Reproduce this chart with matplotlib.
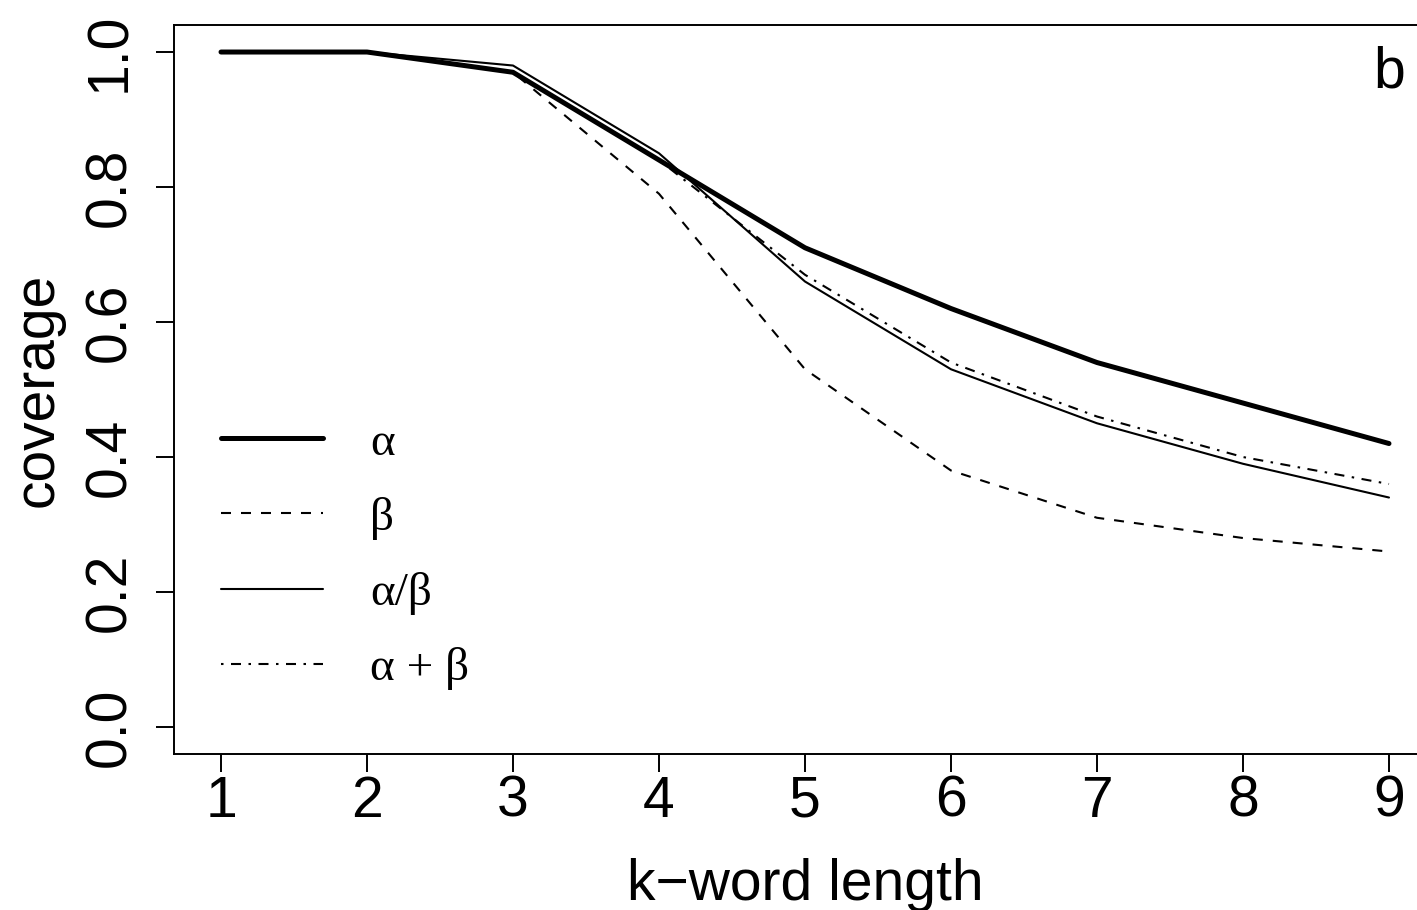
import matplotlib
matplotlib.use("Agg")
import matplotlib.pyplot as plt

k = [1, 2, 3, 4, 5, 6, 7, 8, 9]
alpha = [1.0, 1.0, 0.97, 0.84, 0.71, 0.62, 0.54, 0.48, 0.42]
beta = [1.0, 1.0, 0.97, 0.79, 0.53, 0.38, 0.31, 0.28, 0.26]
alpha_over_beta = [1.0, 1.0, 0.98, 0.85, 0.66, 0.53, 0.45, 0.39, 0.34]
alpha_plus_beta = [1.0, 1.0, 0.97, 0.84, 0.67, 0.54, 0.46, 0.40, 0.36]
labels = ["α", "β", "α/β", "α + β"]
yticks = [0.0, 0.2, 0.4, 0.6, 0.8, 1.0]

plt.rcParams["font.family"] = ["Liberation Sans", "DejaVu Sans"]
plt.rcParams["lines.scale_dashes"] = False

fig = plt.figure(figsize=(14.17, 9.10), dpi=100)
# axes extends past the right edge, like the cropped original
ax = fig.add_axes([0.1230, 0.1714, 0.8902, 0.8011])

ax.plot(k, alpha, color="black", lw=3.6, solid_capstyle="round", label=labels[0])
ax.plot(k, beta, color="black", lw=1.5, dashes=(7.2, 7.2), label=labels[1])
ax.plot(k, alpha_over_beta, color="black", lw=1.5, solid_capstyle="round", label=labels[2])
ax.plot(k, alpha_plus_beta, color="black", lw=1.5, dashes=(1.8, 5.4, 7.2, 5.4), label=labels[3])

ax.set_xlim(0.68, 9.32)
ax.set_ylim(-0.04, 1.04)
ax.set_xticks(k)
ax.set_yticks(yticks)
ax.set_yticklabels([f"{v:.1f}" for v in yticks], rotation=90, va="center")

for s in ax.spines.values():
    s.set_linewidth(1.4)
ax.tick_params(axis="both", direction="out", length=13, width=1.4, labelsize=41)
ax.tick_params(axis="x", pad=2)
ax.tick_params(axis="y", pad=14)

ax.set_xlabel("k\u2212word length", fontsize=41, labelpad=21)
ax.set_ylabel("coverage", fontsize=41, labelpad=13)

ax.text(0.963, 0.935, "b", transform=ax.transAxes, fontsize=41, ha="center", va="center")

leg = ax.legend(loc="center left", bbox_to_anchor=(0.156, 0.389), bbox_transform=fig.transFigure,
                frameon=False, borderpad=0, borderaxespad=0, handlelength=2.15,
                handletextpad=1.0, labelspacing=0.68,
                prop={"family": ["Liberation Serif", "DejaVu Serif"], "size": 34})

fig.savefig("out.png", dpi=100)
